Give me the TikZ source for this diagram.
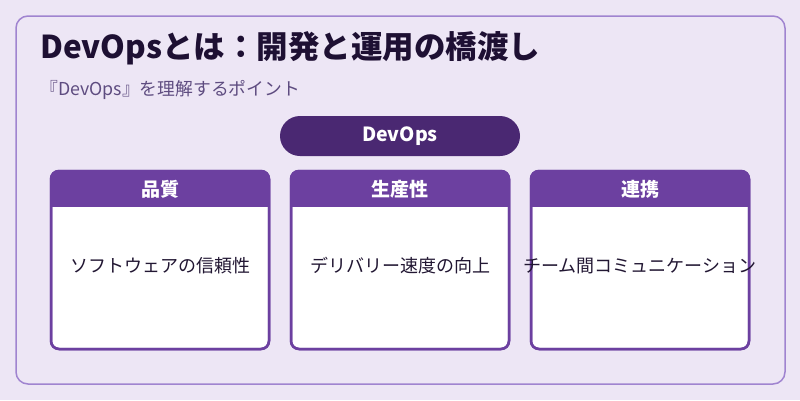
\documentclass[tikz,border=0pt]{standalone}
\usepackage{fontspec}
\setmainfont{Noto Sans CJK JP}
\usepackage{tikz}
\usetikzlibrary{positioning, calc}

\definecolor{bglav}{HTML}{EDE6F5}
\definecolor{framelav}{HTML}{A084D0}
\definecolor{titleink}{HTML}{1E1033}
\definecolor{subink}{HTML}{5E4C80}
\definecolor{pillpurple}{HTML}{4A2872}
\definecolor{headpurple}{HTML}{6C40A0}
\definecolor{bodyink}{HTML}{221733}

\begin{document}
\begin{tikzpicture}[
      x=1pt, y=-1pt,
      frame/.style={draw=framelav, line width=1.5pt, rounded corners=12pt,
                    fill=bglav},
      pill/.style={fill=pillpurple, rounded corners=20pt, minimum width=240pt,
                   minimum height=40pt, text=white,
                   font=\fontsize{19.5}{22}\selectfont\bfseries},
      card/.style={draw=headpurple, line width=2.5pt, fill=white,
                   rounded corners=8pt, minimum width=218pt,
                   minimum height=178pt, outer sep=0pt},
      headtxt/.style={text=white, font=\fontsize{19}{22}\selectfont\bfseries},
      bodytxt/.style={text=bodyink, font=\fontsize{18}{21}\selectfont}
    ]
    \fill[bglav] (0,0) rectangle (800,400);
    \useasboundingbox (0,0) rectangle (800,400);
    \draw[frame] (16,16) rectangle (785,384);

    \node[anchor=base west, text=titleink, inner sep=0pt,
          font=\fontsize{31.5}{36}\selectfont\bfseries] (title) at (40,58)
      {DevOpsとは：開発と運用の橋渡し};
    \node[anchor=base west, text=subink, inner sep=0pt,
          font=\fontsize{17.8}{21}\selectfont] (sub) at (40,95)
      {『DevOps』を理解するポイント};

    \node[pill] (devops) at (400,136) {DevOps};

    % three cards
    \node[card] (quality) at (160,260) {};
    \node[card, right=22pt of quality] (prod) {};
    \node[card, right=22pt of prod] (collab) {};

    \foreach \c/\h/\b in {quality/品質/ソフトウェアの信頼性,
                          prod/生産性/デリバリー速度の向上,
                          collab/連携/チーム間コミュニケーション} {
      \begin{scope}
        \clip[rounded corners=8pt] (\c.north west) rectangle (\c.south east);
        \fill[headpurple] (\c.north west) rectangle ([yshift=-36pt]\c.north east);
      \end{scope}
      \draw[headpurple, line width=2.5pt, rounded corners=8pt]
        (\c.north west) rectangle (\c.south east);
      \node[headtxt] (\c-head) at ([yshift=-18pt]\c.north) {\h};
      \node[bodytxt] (\c-body) at ([yshift=-6pt]\c.center) {\b};
    }
  \end{tikzpicture}
\end{document}
